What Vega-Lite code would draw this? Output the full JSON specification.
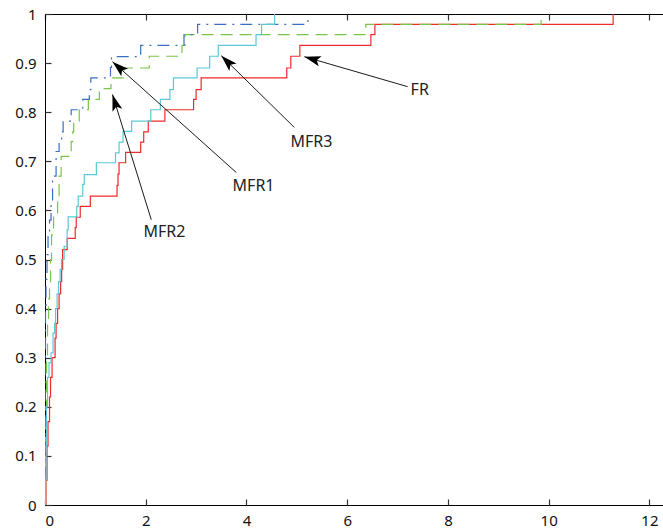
{
  "$schema": "https://vega.github.io/schema/vega-lite/v6.json",
  "autosize": {"type": "none"},
  "width": 618,
  "height": 491,
  "padding": {"left": 45, "top": 14, "right": 0, "bottom": 26},
  "background": "white",
  "config": {
    "view": {"stroke": "#000", "strokeWidth": 1},
    "font": "Noto Sans",
    "axis": {
      "domainColor": "#000",
      "domainWidth": 1,
      "grid": false,
      "title": null,
      "labelFont": "Noto Sans",
      "labelFontSize": 15,
      "labelColor": "#111"
    }
  },
  "datasets": {
    "curves": [
      {"s": "FR", "x": 0, "y": 0}, {"s": "FR", "x": 0.02, "y": 0.05}, {"s": "FR", "x": 0.04, "y": 0.12}, {"s": "FR", "x": 0.06, "y": 0.17},
      {"s": "FR", "x": 0.09, "y": 0.22}, {"s": "FR", "x": 0.11, "y": 0.26}, {"s": "FR", "x": 0.14, "y": 0.30}, {"s": "FR", "x": 0.20, "y": 0.34},
      {"s": "FR", "x": 0.22, "y": 0.37}, {"s": "FR", "x": 0.25, "y": 0.40}, {"s": "FR", "x": 0.28, "y": 0.43}, {"s": "FR", "x": 0.31, "y": 0.455},
      {"s": "FR", "x": 0.33, "y": 0.48}, {"s": "FR", "x": 0.35, "y": 0.52}, {"s": "FR", "x": 0.44, "y": 0.543}, {"s": "FR", "x": 0.60, "y": 0.565},
      {"s": "FR", "x": 0.62, "y": 0.586}, {"s": "FR", "x": 0.70, "y": 0.608}, {"s": "FR", "x": 0.90, "y": 0.629}, {"s": "FR", "x": 1.43, "y": 0.651},
      {"s": "FR", "x": 1.45, "y": 0.674}, {"s": "FR", "x": 1.47, "y": 0.697}, {"s": "FR", "x": 1.60, "y": 0.718}, {"s": "FR", "x": 1.90, "y": 0.739},
      {"s": "FR", "x": 1.96, "y": 0.760}, {"s": "FR", "x": 2.05, "y": 0.782}, {"s": "FR", "x": 2.38, "y": 0.805}, {"s": "FR", "x": 2.95, "y": 0.826},
      {"s": "FR", "x": 3.00, "y": 0.846}, {"s": "FR", "x": 3.10, "y": 0.870}, {"s": "FR", "x": 4.80, "y": 0.890}, {"s": "FR", "x": 4.88, "y": 0.914},
      {"s": "FR", "x": 5.06, "y": 0.936}, {"s": "FR", "x": 6.47, "y": 0.958}, {"s": "FR", "x": 6.55, "y": 0.979}, {"s": "FR", "x": 11.28, "y": 1.0},

      {"s": "MFR2", "x": 0, "y": 0}, {"s": "MFR2", "x": 0.01, "y": 0.20}, {"s": "MFR2", "x": 0.03, "y": 0.30}, {"s": "MFR2", "x": 0.05, "y": 0.38},
      {"s": "MFR2", "x": 0.07, "y": 0.42}, {"s": "MFR2", "x": 0.09, "y": 0.45}, {"s": "MFR2", "x": 0.11, "y": 0.50}, {"s": "MFR2", "x": 0.13, "y": 0.55},
      {"s": "MFR2", "x": 0.17, "y": 0.59}, {"s": "MFR2", "x": 0.25, "y": 0.63}, {"s": "MFR2", "x": 0.28, "y": 0.67}, {"s": "MFR2", "x": 0.32, "y": 0.71},
      {"s": "MFR2", "x": 0.52, "y": 0.74}, {"s": "MFR2", "x": 0.55, "y": 0.76}, {"s": "MFR2", "x": 0.57, "y": 0.782}, {"s": "MFR2", "x": 0.68, "y": 0.805},
      {"s": "MFR2", "x": 0.86, "y": 0.826}, {"s": "MFR2", "x": 1.08, "y": 0.848}, {"s": "MFR2", "x": 1.31, "y": 0.870}, {"s": "MFR2", "x": 1.57, "y": 0.890},
      {"s": "MFR2", "x": 2.07, "y": 0.914}, {"s": "MFR2", "x": 2.72, "y": 0.936}, {"s": "MFR2", "x": 2.78, "y": 0.958}, {"s": "MFR2", "x": 6.37, "y": 0.979},
      {"s": "MFR2", "x": 9.85, "y": 1.0},

      {"s": "MFR1", "x": 0, "y": 0}, {"s": "MFR1", "x": 0.005, "y": 0.30}, {"s": "MFR1", "x": 0.01, "y": 0.40}, {"s": "MFR1", "x": 0.02, "y": 0.46},
      {"s": "MFR1", "x": 0.04, "y": 0.51}, {"s": "MFR1", "x": 0.06, "y": 0.55}, {"s": "MFR1", "x": 0.09, "y": 0.58}, {"s": "MFR1", "x": 0.12, "y": 0.62},
      {"s": "MFR1", "x": 0.15, "y": 0.67}, {"s": "MFR1", "x": 0.22, "y": 0.72}, {"s": "MFR1", "x": 0.28, "y": 0.74}, {"s": "MFR1", "x": 0.33, "y": 0.76},
      {"s": "MFR1", "x": 0.36, "y": 0.782}, {"s": "MFR1", "x": 0.52, "y": 0.805}, {"s": "MFR1", "x": 0.75, "y": 0.826}, {"s": "MFR1", "x": 0.88, "y": 0.846},
      {"s": "MFR1", "x": 0.91, "y": 0.870}, {"s": "MFR1", "x": 1.30, "y": 0.891}, {"s": "MFR1", "x": 1.32, "y": 0.913}, {"s": "MFR1", "x": 1.90, "y": 0.936},
      {"s": "MFR1", "x": 2.76, "y": 0.958}, {"s": "MFR1", "x": 3.03, "y": 0.979}, {"s": "MFR1", "x": 5.22, "y": 1.0},

      {"s": "MFR3", "x": 0, "y": 0}, {"s": "MFR3", "x": 0.01, "y": 0.05}, {"s": "MFR3", "x": 0.02, "y": 0.12}, {"s": "MFR3", "x": 0.03, "y": 0.20},
      {"s": "MFR3", "x": 0.05, "y": 0.26}, {"s": "MFR3", "x": 0.08, "y": 0.29}, {"s": "MFR3", "x": 0.12, "y": 0.31}, {"s": "MFR3", "x": 0.16, "y": 0.35},
      {"s": "MFR3", "x": 0.19, "y": 0.37}, {"s": "MFR3", "x": 0.21, "y": 0.40}, {"s": "MFR3", "x": 0.24, "y": 0.43}, {"s": "MFR3", "x": 0.27, "y": 0.455},
      {"s": "MFR3", "x": 0.30, "y": 0.48}, {"s": "MFR3", "x": 0.33, "y": 0.50}, {"s": "MFR3", "x": 0.38, "y": 0.527}, {"s": "MFR3", "x": 0.44, "y": 0.561},
      {"s": "MFR3", "x": 0.46, "y": 0.587}, {"s": "MFR3", "x": 0.63, "y": 0.608}, {"s": "MFR3", "x": 0.66, "y": 0.629}, {"s": "MFR3", "x": 0.75, "y": 0.653},
      {"s": "MFR3", "x": 0.78, "y": 0.673}, {"s": "MFR3", "x": 1.02, "y": 0.697}, {"s": "MFR3", "x": 1.40, "y": 0.717}, {"s": "MFR3", "x": 1.47, "y": 0.739},
      {"s": "MFR3", "x": 1.55, "y": 0.761}, {"s": "MFR3", "x": 1.72, "y": 0.782}, {"s": "MFR3", "x": 2.10, "y": 0.805}, {"s": "MFR3", "x": 2.29, "y": 0.826},
      {"s": "MFR3", "x": 2.48, "y": 0.846}, {"s": "MFR3", "x": 2.55, "y": 0.870}, {"s": "MFR3", "x": 3.02, "y": 0.890}, {"s": "MFR3", "x": 3.27, "y": 0.914},
      {"s": "MFR3", "x": 3.44, "y": 0.936}, {"s": "MFR3", "x": 4.19, "y": 0.958}, {"s": "MFR3", "x": 4.30, "y": 0.979}, {"s": "MFR3", "x": 4.56, "y": 1.0}
    ],
    "notes": [
      {"label": "FR", "tx": 7.44, "ty": 0.846, "ax": 7.20, "ay": 0.852, "hx": 5.15, "hy": 0.913},
      {"label": "MFR3", "tx": 5.29, "ty": 0.740, "ax": 4.95, "ay": 0.769, "hx": 3.50, "hy": 0.915},
      {"label": "MFR1", "tx": 4.14, "ty": 0.649, "ax": 3.80, "ay": 0.677, "hx": 1.34, "hy": 0.903},
      {"label": "MFR2", "tx": 2.37, "ty": 0.556, "ax": 2.11, "ay": 0.581, "hx": 1.34, "hy": 0.836}
    ]
  },
  "layer": [
    {
      "data": {"name": "curves"},
      "mark": {"type": "line", "interpolate": "step-after", "strokeWidth": 1.2, "clip": true},
      "encoding": {
        "x": {"field": "x", "type": "quantitative", "scale": {"domain": [0, 12.27], "nice": false, "zero": false},
              "axis": {"orient": "bottom", "values": [0, 2, 4, 6, 8, 10, 12], "format": "d", "ticks": false, "labelPadding": 8}},
        "y": {"field": "y", "type": "quantitative", "scale": {"domain": [0, 1], "nice": false},
              "axis": {"orient": "left", "values": [0, 0.1, 0.2, 0.3, 0.4, 0.5, 0.6, 0.7, 0.8, 0.9, 1], "format": "~g", "ticks": false, "labelPadding": 9}},
        "color": {"field": "s", "type": "nominal", "legend": null,
                  "scale": {"domain": ["FR", "MFR2", "MFR1", "MFR3"], "range": ["#ee2a2a", "#78c548", "#3b6ec2", "#5cc8d6"]}},
        "strokeDash": {"field": "s", "type": "nominal", "legend": null,
                  "scale": {"domain": ["FR", "MFR2", "MFR1", "MFR3"], "range": [[1, 0], [12, 7], [12, 6, 2, 6], [1, 0]]}}
      }
    },
    {
      "data": {"name": "notes"},
      "mark": {"type": "rule", "color": "#000", "strokeWidth": 0.9},
      "encoding": {
        "x": {"field": "ax", "type": "quantitative", "axis": {"orient": "bottom", "offset": -6, "values": [0, 2, 4, 6, 8, 10, 12], "labels": false, "domain": false, "ticks": true, "tickSize": 6, "tickColor": "#333333", "tickWidth": 1.2, "tickOpacity": 1}},
        "y": {"field": "ay", "type": "quantitative", "axis": {"orient": "left", "offset": -6, "values": [0, 0.1, 0.2, 0.3, 0.4, 0.5, 0.6, 0.7, 0.8, 0.9, 1], "labels": false, "domain": false, "ticks": true, "tickSize": 6, "tickColor": "#333333", "tickWidth": 1.2, "tickOpacity": 1}},
        "x2": {"field": "hx"},
        "y2": {"field": "hy"}
      }
    },
    {
      "data": {"name": "notes"},
      "mark": {"type": "text", "font": "Noto Sans", "fontSize": 16, "color": "#222", "align": "center", "baseline": "middle"},
      "encoding": {
        "x": {"field": "tx", "type": "quantitative", "axis": {"orient": "top", "offset": -6, "values": [0, 2, 4, 6, 8, 10, 12], "labels": false, "domain": false, "ticks": true, "tickSize": 6, "tickColor": "#333333", "tickWidth": 1.2, "tickOpacity": 1}},
        "y": {"field": "ty", "type": "quantitative", "axis": null},
        "text": {"field": "label"}
      }
    },
    {
      "data": {"name": "notes"},
      "transform": [{"filter": "datum.label == 'FR'"}],
      "mark": {"type": "point", "shape": "M0,0 L0.5,1.6 L0,1.25 L-0.5,1.6 Z", "filled": true, "color": "#000", "opacity": 1, "size": 420, "angle": -73.8},
      "encoding": {"x": {"field": "hx", "type": "quantitative", "axis": null}, "y": {"field": "hy", "type": "quantitative", "axis": null}}
    },
    {
      "data": {"name": "notes"},
      "transform": [{"filter": "datum.label == 'MFR3'"}],
      "mark": {"type": "point", "shape": "M0,0 L0.5,1.6 L0,1.25 L-0.5,1.6 Z", "filled": true, "color": "#000", "opacity": 1, "size": 420, "angle": -45.4},
      "encoding": {"x": {"field": "hx", "type": "quantitative", "axis": null}, "y": {"field": "hy", "type": "quantitative", "axis": null}}
    },
    {
      "data": {"name": "notes"},
      "transform": [{"filter": "datum.label == 'MFR1'"}],
      "mark": {"type": "point", "shape": "M0,0 L0.5,1.6 L0,1.25 L-0.5,1.6 Z", "filled": true, "color": "#000", "opacity": 1, "size": 420, "angle": -48.2},
      "encoding": {"x": {"field": "hx", "type": "quantitative", "axis": null}, "y": {"field": "hy", "type": "quantitative", "axis": null}}
    },
    {
      "data": {"name": "notes"},
      "transform": [{"filter": "datum.label == 'MFR2'"}],
      "mark": {"type": "point", "shape": "M0,0 L0.5,1.6 L0,1.25 L-0.5,1.6 Z", "filled": true, "color": "#000", "opacity": 1, "size": 420, "angle": -17.3},
      "encoding": {"x": {"field": "hx", "type": "quantitative", "axis": null}, "y": {"field": "hy", "type": "quantitative", "axis": null}}
    }
  ],
  "resolve": {"axis": {"x": "independent", "y": "independent"}}
}
